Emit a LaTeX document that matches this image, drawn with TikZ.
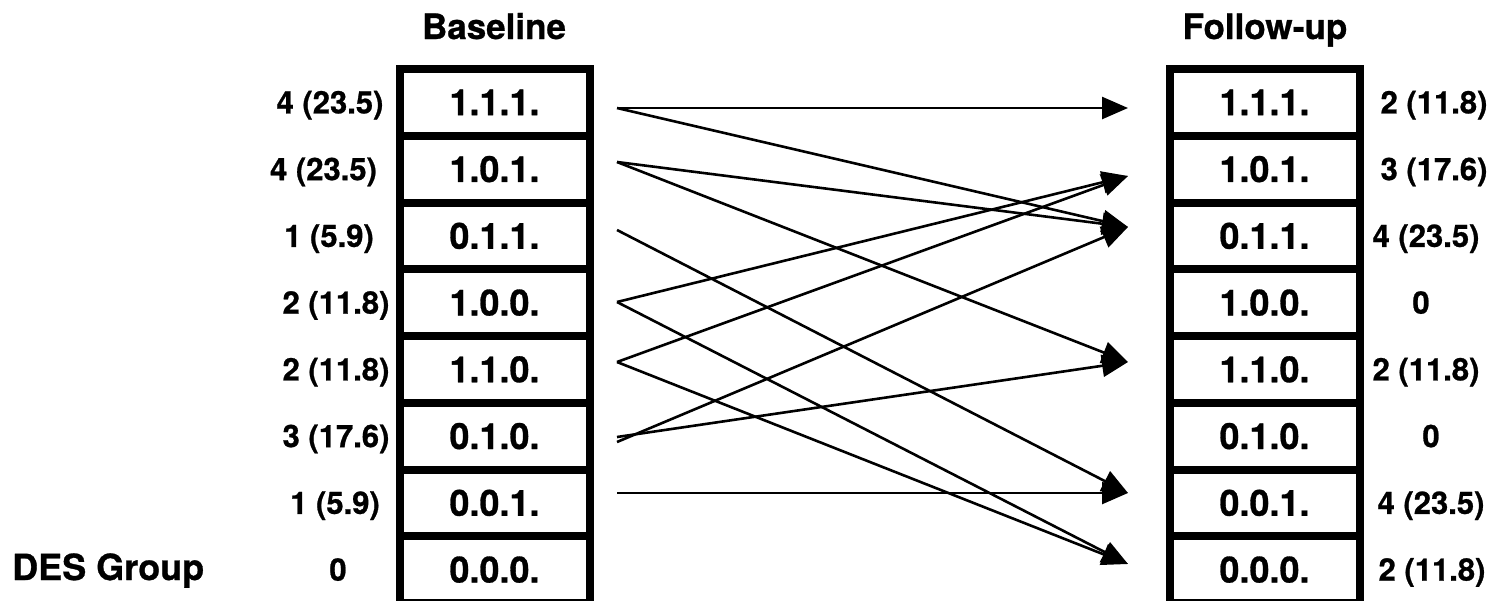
\documentclass[tikz,border=0pt]{standalone}
\usepackage{fontspec}
\setmainfont{TeX Gyre Heros}[BoldFeatures={FakeBold=0.8}]
\usetikzlibrary{arrows.meta}
\begin{document}
\begin{tikzpicture}[x=1pt,y=-1pt,
  cell/.style={draw=black, line width=8pt, minimum width=190pt, minimum height=66.75pt,
    inner sep=0pt, font=\fontsize{36}{42}\selectfont\bfseries},
  lab/.style={anchor=base, inner sep=0pt, font=\fontsize{31}{36}\selectfont\bfseries},
  ttl/.style={anchor=base, inner sep=0pt, font=\fontsize{35}{42}\selectfont\bfseries},
  conn/.style={line width=2.6pt, -{Triangle[length=26pt,width=22pt]}}]
\useasboundingbox (0,0) rectangle (1493,600);
\clip (0,0) rectangle (1493,600);
% titles
\node[ttl] (tb) at (494,39) {Baseline};
\node[ttl] (tf) at (1265,39) {Follow-up};
\node[ttl, anchor=base west, font=\fontsize{36}{44}\selectfont\bfseries] (des) at (12,580) {DES Group};
% cells
\foreach \i/\t in {1/1.1.1., 2/1.0.1., 3/0.1.1., 4/1.0.0., 5/1.1.0., 6/0.1.0., 7/0.0.1., 8/0.0.0.}{
  \node[cell] (b\i) at (494.5, {69+66.75*(\i-0.5)}) {\t};
  \node[cell] (f\i) at (1264.5, {69+66.75*(\i-0.5)}) {\t};
}
% left labels
\foreach \i/\x/\t in {1/330/4 (23.5), 2/323.5/4 (23.5), 3/329/1 (5.9), 4/336/2 (11.8), 5/336/2 (11.8), 6/336/3 (17.6), 7/335/1 (5.9), 8/338/0}{
  \node[lab] (lb\i) at (\x, {69+66.75*(\i-0.5)+11}) {\t};
}
% right labels
\foreach \i/\x/\t in {1/1434/2 (11.8), 2/1434/3 (17.6), 3/1426/4 (23.5), 4/1421/0, 5/1426/2 (11.8), 6/1431/0, 7/1431/4 (23.5), 8/1432/2 (11.8)}{
  \node[lab] (rb\i) at (\x, {69+66.75*(\i-0.5)+11}) {\t};
}
% connector end points
\coordinate (s1) at (617,108);
\coordinate (s2) at (617,162);
\coordinate (s3) at (617,230);
\coordinate (s4) at (617,302);
\coordinate (s5) at (617,362);
\coordinate (s6a) at (617,437);
\coordinate (s6b) at (617,442);
\coordinate (s7) at (617,493);
\coordinate (e1) at (1128,108);
\coordinate (e2) at (1128,176);
\coordinate (e3) at (1128,227);
\coordinate (e5) at (1128,362);
\coordinate (e7) at (1128,493);
\coordinate (e8) at (1128,564);
% connectors
\draw[conn] (s1) -- (e1);
\draw[conn] (s1) -- (e3);
\draw[conn] (s2) -- (e3);
\draw[conn] (s2) -- (e5);
\draw[conn] (s3) -- (e7);
\draw[conn] (s4) -- (e2);
\draw[conn] (s4) -- (e8);
\draw[conn] (s5) -- (e2);
\draw[conn] (s5) -- (e8);
\draw[conn] (s6b) -- (e3);
\draw[conn] (s6a) -- (e5);
\draw[conn] (s7) -- (e7);
\end{tikzpicture}
\end{document}
